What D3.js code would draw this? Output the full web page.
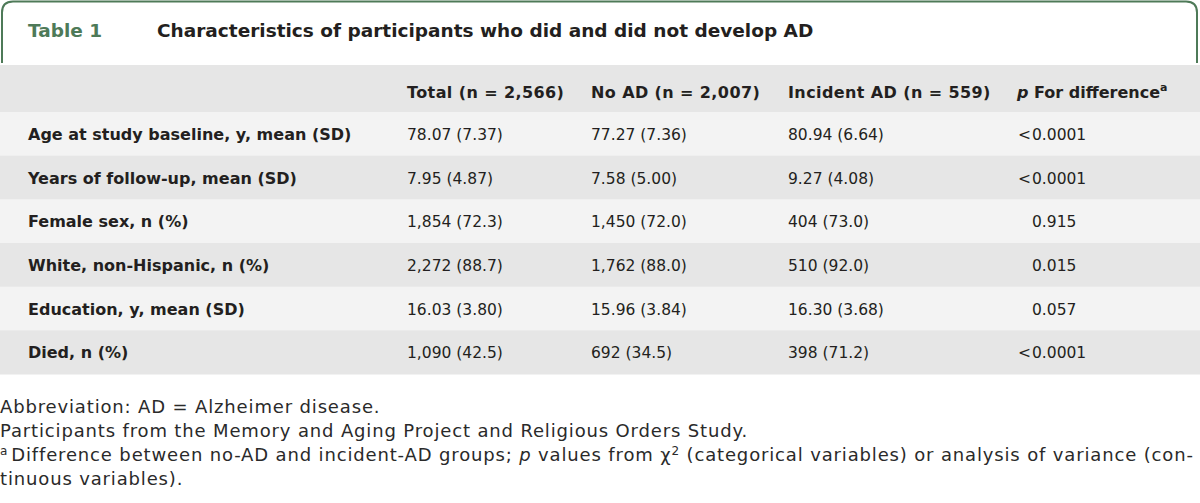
<!DOCTYPE html>
<html>
<head>
<meta charset="utf-8">
<script src="https://cdn.jsdelivr.net/npm/d3@7"></script>
<style>
  html, body { margin: 0; padding: 0; background: #ffffff; }
  svg { display: block; }
</style>
</head>
<body>
<svg id="chart" width="1200" height="503"></svg>
<script>
// ---- data ----
const tableNumber = "Table 1";
const tableTitle = "Characteristics of participants who did and did not develop AD";
const columnHeaders = ["", "Total (n = 2,566)", "No AD (n = 2,007)", "Incident AD (n = 559)", "p For difference"];
const rowLabels = [
  "Age at study baseline, y, mean (SD)",
  "Years of follow-up, mean (SD)",
  "Female sex, n (%)",
  "White, non-Hispanic, n (%)",
  "Education, y, mean (SD)",
  "Died, n (%)"
];
const totalValues = ["78.07 (7.37)", "7.95 (4.87)", "1,854 (72.3)", "2,272 (88.7)", "16.03 (3.80)", "1,090 (42.5)"];
const noADValues = ["77.27 (7.36)", "7.58 (5.00)", "1,450 (72.0)", "1,762 (88.0)", "15.96 (3.84)", "692 (34.5)"];
const incidentADValues = ["80.94 (6.64)", "9.27 (4.08)", "404 (73.0)", "510 (92.0)", "16.30 (3.68)", "398 (71.2)"];
const pValues = ["<0.0001", "<0.0001", "0.915", "0.015", "0.057", "<0.0001"];
const footnotes = [
  "Abbreviation: AD = Alzheimer disease.",
  "Participants from the Memory and Aging Project and Religious Orders Study."
];

// ---- layout ----
const W = 1200;
const svg = d3.select("#chart");
const green = "#4e7a58";
const textColor = "#231f20";
const tableFont = "'DejaVu Sans', sans-serif";
const noteFont = "'DejaVu Sans', sans-serif";

// title box (rounded top, open bottom)
const bx0 = 2, bx1 = 1197, by0 = 1.5, by1 = 63, r = 11;
svg.append("path")
  .attr("d", `M${bx0},${by1} L${bx0},${by0 + r} Q${bx0},${by0} ${bx0 + r},${by0} L${bx1 - r},${by0} Q${bx1},${by0} ${bx1},${by0 + r} L${bx1},${by1}`)
  .attr("fill", "none").attr("stroke", green).attr("stroke-width", 2);

svg.append("text").attr("x", 28).attr("y", 37)
  .attr("font-family", tableFont).attr("font-weight", 700).attr("font-size", 18.5)
  .attr("fill", green).text(tableNumber);
svg.append("text").attr("x", 157).attr("y", 37)
  .attr("font-family", tableFont).attr("font-weight", 700).attr("font-size", 18.5)
  .attr("fill", textColor).text(tableTitle);

// header band + data rows via band scale
const headerTop = 65, headerBottom = 112, tableBottom = 374;
const rowKeys = rowLabels.map((d, i) => "r" + i);
const y = d3.scaleBand().domain(rowKeys).range([headerBottom, tableBottom]).paddingInner(0).paddingOuter(0);
const colX = d3.scaleOrdinal().domain(d3.range(5)).range([28, 407, 591, 788, 1032]);

svg.append("rect").attr("x", 0).attr("y", headerTop).attr("width", W)
  .attr("height", headerBottom - headerTop + 0.5).attr("fill", "#e6e6e6");
svg.selectAll("rect.row").data(rowKeys).enter().append("rect")
  .attr("class", "row")
  .attr("x", 0).attr("width", W)
  .attr("y", d => y(d)).attr("height", y.bandwidth() + 0.5)
  .attr("fill", (d, i) => i % 2 === 0 ? "#f3f3f3" : "#e6e6e6");

// header
const hdr = svg.append("g").attr("font-family", tableFont).attr("font-weight", 700)
  .attr("font-size", 16).attr("letter-spacing", 0.4).attr("fill", textColor);
const hy = 98;
[1, 2, 3].forEach(c => {
  hdr.append("text").attr("x", colX(c)).attr("y", hy).text(columnHeaders[c]);
});
const pHead = hdr.append("text").attr("x", 1017).attr("y", hy).attr("letter-spacing", 0);
pHead.append("tspan").attr("font-style", "italic").text("p");
pHead.append("tspan").text(columnHeaders[4].slice(1));
pHead.append("tspan").attr("font-size", 11).attr("dy", -7).text("a");

// body
const body = svg.append("g").attr("font-family", tableFont).attr("font-size", 15.5).attr("fill", textColor);
rowLabels.forEach((lab, i) => {
  const cy = y("r" + i) + y.bandwidth() / 2 + 6;
  body.append("text").attr("x", colX(0)).attr("y", cy).attr("font-weight", 700).attr("font-size", 16).text(lab);
  body.append("text").attr("x", colX(1)).attr("y", cy).text(totalValues[i]);
  body.append("text").attr("x", colX(2)).attr("y", cy).text(noADValues[i]);
  body.append("text").attr("x", colX(3)).attr("y", cy).text(incidentADValues[i]);
  const pv = pValues[i];
  if (pv.startsWith("<")) {
    body.append("text").attr("x", colX(4) - 1).attr("y", cy).attr("text-anchor", "end").text("<");
    body.append("text").attr("x", colX(4)).attr("y", cy).text(pv.slice(1));
  } else {
    body.append("text").attr("x", colX(4)).attr("y", cy).text(pv);
  }
});

// footnotes
const notes = svg.append("g").attr("font-family", noteFont).attr("font-size", 18)
  .attr("letter-spacing", 0.85).attr("fill", "#2a2a2a");
notes.append("text").attr("x", 0).attr("y", 413).text(footnotes[0]);
notes.append("text").attr("x", 0).attr("y", 437).text(footnotes[1]);
const n3 = notes.append("text").attr("x", 0).attr("y", 461);
n3.append("tspan").attr("font-size", 12).attr("dy", -6).text("a");
n3.append("tspan").attr("dy", 6).attr("dx", 3).text("Difference between no-AD and incident-AD groups; ");
n3.append("tspan").attr("font-style", "italic").text("p");
n3.append("tspan").text(" values from χ");
n3.append("tspan").attr("font-size", 12).attr("dy", -6).text("2");
n3.append("tspan").attr("dy", 6).text(" (categorical variables) or analysis of variance (con-");
notes.append("text").attr("x", 0).attr("y", 485).text("tinuous variables).");
</script>
</body>
</html>
